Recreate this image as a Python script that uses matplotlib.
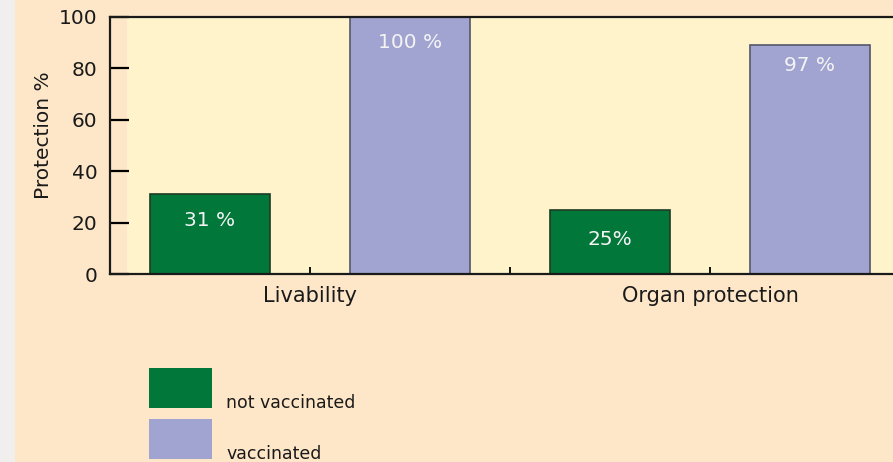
import matplotlib
matplotlib.use("Agg")
import matplotlib.pyplot as plt
from matplotlib.patches import Rectangle

categories = ["Livability", "Organ protection"]
series_names = ["not vaccinated", "vaccinated"]
not_vaccinated = [31, 25]
vaccinated = [100, 89]
label_not_vaccinated = ["31 %", "25%"]
label_vaccinated = ["100 %", "97 %"]
y_ticks = [0, 20, 40, 60, 80, 100]

GREEN = "#01773a"
LAV = "#a1a4d0"
PEACH = "#fde7c8"
YELLOW = "#fff3cb"
TXT = "#1a1a1a"
FONT = ["DejaVu Sans"]
plt.rcParams["font.family"] = FONT

W, H = 893, 462
fig = plt.figure(figsize=(W / 100, H / 100), dpi=100)
fig.patch.set_facecolor(PEACH)
# left grey strip
fig.add_artist(Rectangle((0, 0), 15 / W, 1, transform=fig.transFigure,
                         facecolor="#f1efee", edgecolor="none", zorder=0))

ax = fig.add_axes([110 / W, (H - 274) / H, 1 - 110 / W, (274 - 17) / H])
ax.set_facecolor(PEACH)
x_right = 1 + (W - 310) / 200
ax.set_xlim(0, x_right)
ax.set_ylim(0, 100)
ax.axvspan(0.085, x_right, color=YELLOW, zorder=0, lw=0)

centers = [1, 3]
bw = 0.6
for i, c in enumerate(centers):
    ax.bar(c - 0.5, not_vaccinated[i], width=bw, color=GREEN, edgecolor="#1f3a25",
           linewidth=1.2, zorder=2)
    ax.bar(c + 0.5, vaccinated[i], width=bw, color=LAV, edgecolor="#55566a",
           linewidth=1.2, zorder=2)

offs_nv = [-26, -30]
offs_v = [-25, -20]
for i, c in enumerate(centers):
    ax.annotate(label_not_vaccinated[i], (c - 0.5, not_vaccinated[i]),
                xytext=(0, offs_nv[i] * 0.72), textcoords="offset points",
                ha="center", va="center", color="#f4f4f4", fontsize=14.5, zorder=3)
    ax.annotate(label_vaccinated[i], (c + 0.5, vaccinated[i]),
                xytext=(0, offs_v[i] * 0.72), textcoords="offset points",
                ha="center", va="center", color="#f4f4f4", fontsize=14.5, zorder=3)

ax.set_yticks(y_ticks)
ax.set_yticklabels([str(v) for v in y_ticks], fontsize=14.5, color=TXT)
ax.tick_params(axis="y", direction="in", length=14, width=1.6, pad=9)
ax.set_xticks([1, 2, 3])
ax.set_xticklabels([])
ax.tick_params(axis="x", direction="in", length=5, width=1.3)
for i, c in enumerate(centers):
    ax.text(c, -8.7, categories[i], ha="center", va="center", fontsize=15,
            color=TXT, transform=ax.transData)
ax.set_ylabel("Protection %", fontsize=14.5, color=TXT)
ax.yaxis.set_label_coords((53 - 110) / (W - 110), (274 - 135) / 257)

for s in ["left", "top", "bottom"]:
    ax.spines[s].set_linewidth(1.6)
    ax.spines[s].set_color(TXT)
ax.spines["right"].set_visible(False)
ax.spines["top"].set_zorder(5)

# legend
for k, (name, col) in enumerate(zip(series_names, [GREEN, LAV])):
    top = 368 + k * 51
    fig.add_artist(Rectangle((149 / W, (H - top - 40) / H), 63 / W, 40 / H,
                             transform=fig.transFigure, facecolor=col, edgecolor="none"))
    fig.text(226 / W, (H - top - 40) / H, name, ha="left", va="baseline",
             fontsize=12.5, color=TXT, family="DejaVu Sans")

fig.savefig("out.png", dpi=100, facecolor=fig.get_facecolor())
